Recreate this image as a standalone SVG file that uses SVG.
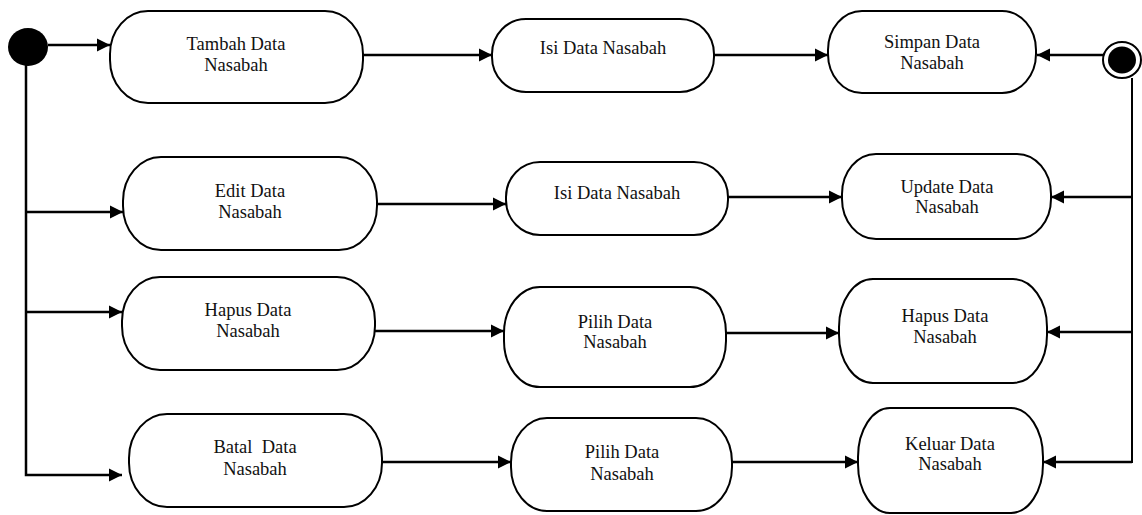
<svg xmlns="http://www.w3.org/2000/svg" width="1142" height="515" viewBox="0 0 1142 515">
<defs>
<style>
.node rect{fill:#fff;stroke:#000;stroke-width:2}
.node text{font-family:"Liberation Serif","Times New Roman",serif;font-size:18.5px;fill:#111;text-anchor:middle;white-space:pre}
#connectors path{fill:none;stroke:#000;stroke-width:2.5}
</style>
<marker id="arr" markerUnits="userSpaceOnUse" markerWidth="14" markerHeight="14" viewBox="0 0 14 14" refX="13" refY="7" orient="auto">
<path d="M0,0.5 L13,7 L0,13.5 Z" fill="#000"/>
</marker>
</defs>
<rect width="1142" height="515" fill="#fff"/>
<g id="connectors">
<path d="M48,45 H110" marker-end="url(#arr)"/>
<path d="M26,64 V475 H122" marker-end="url(#arr)"/>
<path d="M26,212 H123" marker-end="url(#arr)"/>
<path d="M26,312 H122" marker-end="url(#arr)"/>
<path d="M363,55 H492" marker-end="url(#arr)"/>
<path d="M714,55 H828" marker-end="url(#arr)"/>
<path d="M1104,55 H1037" marker-end="url(#arr)"/>
<path d="M377,204 H506" marker-end="url(#arr)"/>
<path d="M728,197 H842" marker-end="url(#arr)"/>
<path d="M1132,197 H1051" marker-end="url(#arr)"/>
<path d="M375,331 H504" marker-end="url(#arr)"/>
<path d="M726,333 H839" marker-end="url(#arr)"/>
<path d="M1132,332 H1047" marker-end="url(#arr)"/>
<path d="M382,462 H511" marker-end="url(#arr)"/>
<path d="M732,462 H858" marker-end="url(#arr)"/>
<path d="M1132,462 H1043" marker-end="url(#arr)"/>
<path d="M1132,78 V463" style="stroke-width:2"/>
</g>
<g id="start"><ellipse cx="28" cy="47" rx="20" ry="19" fill="#000"/></g>
<g id="end"><ellipse cx="1122" cy="60" rx="19" ry="18" fill="#fff" stroke="#000" stroke-width="2"/><ellipse cx="1122" cy="60" rx="14" ry="13.5" fill="#000"/></g>
<g id="tambah" class="node"><rect x="110" y="11" width="253" height="92" rx="38" ry="43"/><text x="236" y="50">Tambah Data</text><text x="236" y="71">Nasabah</text></g>
<g id="isi1" class="node"><rect x="492" y="19" width="222" height="73" rx="34" ry="35"/><text x="603" y="54">Isi Data Nasabah</text></g>
<g id="simpan" class="node"><rect x="828" y="11" width="208" height="82" rx="34" ry="39"/><text x="932" y="48">Simpan Data</text><text x="932" y="69">Nasabah</text></g>
<g id="edit" class="node"><rect x="123" y="157" width="254" height="93" rx="38" ry="44"/><text x="250" y="197">Edit Data</text><text x="250" y="218">Nasabah</text></g>
<g id="isi2" class="node"><rect x="506" y="162" width="222" height="73" rx="34" ry="35"/><text x="617" y="199">Isi Data Nasabah</text></g>
<g id="update" class="node"><rect x="842" y="154" width="209" height="85" rx="34" ry="40"/><text x="947" y="193">Update Data</text><text x="947" y="213">Nasabah</text></g>
<g id="hapus1" class="node"><rect x="122" y="277" width="253" height="93" rx="38" ry="44"/><text x="248" y="316">Hapus Data</text><text x="248" y="337">Nasabah</text></g>
<g id="pilih1" class="node"><rect x="504" y="287" width="222" height="100" rx="36" ry="46"/><text x="615" y="328">Pilih Data</text><text x="615" y="348">Nasabah</text></g>
<g id="hapus2" class="node"><rect x="839" y="279" width="208" height="104" rx="34" ry="48"/><text x="945" y="322">Hapus Data</text><text x="945" y="343">Nasabah</text></g>
<g id="batal" class="node"><rect x="129" y="414" width="253" height="93" rx="38" ry="44"/><text x="255" y="453">Batal  Data</text><text x="255" y="475">Nasabah</text></g>
<g id="pilih2" class="node"><rect x="511" y="418" width="221" height="93" rx="36" ry="44"/><text x="622" y="458">Pilih Data</text><text x="622" y="480">Nasabah</text></g>
<g id="keluar" class="node"><rect x="858" y="408" width="185" height="105" rx="32" ry="49"/><text x="950" y="450">Keluar Data</text><text x="950" y="470">Nasabah</text></g>
</svg>
